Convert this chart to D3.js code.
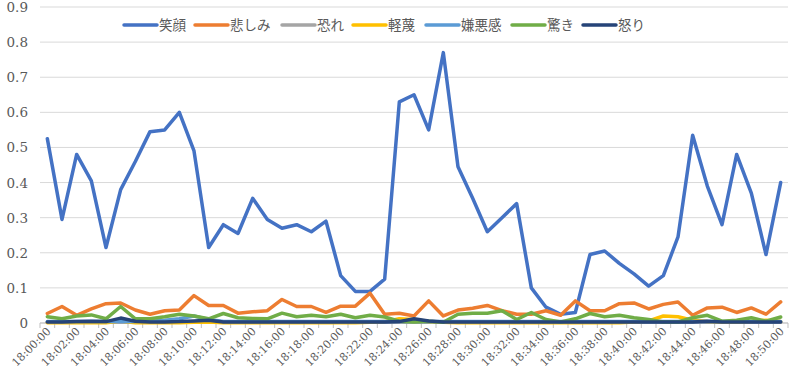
<!DOCTYPE html>
<html>
<head>
<meta charset="utf-8">
<script src="https://cdn.jsdelivr.net/npm/d3@7"></script>
<style>
  body { margin: 0; background: #fff; }
  svg { display: block; }
</style>
</head>
<body>
<script>
// one sample per minute, 18:00:00 .. 18:50:00
var times = d3.range(51).map(function (i) {
    return "18:" + String(i).padStart(2, "0") + ":00";
});

var names = ["笑顔", "悲しみ", "恐れ", "軽蔑", "嫌悪感", "驚き", "怒り"];
var colors = ["#4472C4", "#ED7D31", "#A5A5A5", "#FFC000", "#5B9BD5", "#70AD47", "#264478"];

var smile = [0.525, 0.295, 0.48, 0.405, 0.215, 0.38, 0.46, 0.545, 0.55, 0.6,
    0.49, 0.215, 0.28, 0.255, 0.355, 0.295, 0.27, 0.28, 0.26, 0.29,
    0.135, 0.09, 0.09, 0.125, 0.63, 0.65, 0.55, 0.77, 0.445, 0.355,
    0.26, 0.30, 0.34, 0.10, 0.045, 0.025, 0.03, 0.195, 0.205, 0.17,
    0.14, 0.105, 0.135, 0.245, 0.535, 0.39, 0.28, 0.48, 0.37, 0.195, 0.40];
var sadness = [0.027, 0.047, 0.022, 0.04, 0.055, 0.057, 0.037, 0.025, 0.035, 0.037,
    0.078, 0.05, 0.05, 0.028, 0.032, 0.035, 0.067, 0.047, 0.047, 0.03,
    0.048, 0.048, 0.085, 0.025, 0.028, 0.02, 0.063, 0.02, 0.037, 0.042,
    0.05, 0.035, 0.025, 0.025, 0.035, 0.022, 0.063, 0.035, 0.035, 0.055,
    0.057, 0.04, 0.053, 0.06, 0.022, 0.043, 0.045, 0.03, 0.043, 0.025, 0.06];
var fear = [0.002, 0.002, 0.002, 0.002, 0.002, 0.002, 0.002, 0.002, 0.002, 0.002,
    0.002, 0.002, 0.002, 0.002, 0.002, 0.002, 0.002, 0.002, 0.002, 0.002,
    0.002, 0.002, 0.002, 0.002, 0.002, 0.002, 0.002, 0.002, 0.002, 0.002,
    0.002, 0.002, 0.002, 0.002, 0.002, 0.002, 0.002, 0.002, 0.002, 0.002,
    0.002, 0.002, 0.002, 0.002, 0.002, 0.002, 0.002, 0.002, 0.002, 0.002, 0.002];
var contempt = [0.001, 0.001, 0.001, 0.001, 0.001, 0.006, 0.001, 0.001, 0.001, 0.001,
    0.002, 0.003, 0.001, 0.001, 0.001, 0.001, 0.001, 0.001, 0.001, 0.001,
    0.001, 0.001, 0.002, 0.004, 0.012, 0.01, 0.004, 0.002, 0.001, 0.001,
    0.001, 0.001, 0.001, 0.001, 0.001, 0.001, 0.001, 0.001, 0.001, 0.001,
    0.003, 0.006, 0.02, 0.018, 0.008, 0.004, 0.003, 0.003, 0.004, 0.008, 0.004];
var disgust = [0.004, 0.004, 0.004, 0.004, 0.004, 0.004, 0.004, 0.005, 0.008, 0.012,
    0.02, 0.01, 0.004, 0.004, 0.004, 0.004, 0.004, 0.004, 0.004, 0.004,
    0.004, 0.004, 0.004, 0.004, 0.004, 0.004, 0.004, 0.004, 0.004, 0.004,
    0.004, 0.004, 0.004, 0.004, 0.004, 0.004, 0.004, 0.004, 0.004, 0.004,
    0.004, 0.004, 0.004, 0.004, 0.004, 0.004, 0.004, 0.004, 0.004, 0.004, 0.004];
var surprise = [0.018, 0.012, 0.02, 0.023, 0.012, 0.047, 0.012, 0.012, 0.018, 0.025,
    0.02, 0.012, 0.027, 0.015, 0.013, 0.012, 0.028, 0.018, 0.022, 0.018,
    0.025, 0.015, 0.022, 0.017, 0.005, 0.003, 0.005, 0.002, 0.025, 0.028,
    0.028, 0.035, 0.01, 0.03, 0.01, 0.003, 0.012, 0.027, 0.018, 0.022,
    0.015, 0.01, 0.003, 0.003, 0.015, 0.022, 0.005, 0.008, 0.015, 0.005, 0.017];
var anger = [0.003, 0.003, 0.004, 0.005, 0.004, 0.014, 0.005, 0.003, 0.003, 0.004,
    0.006, 0.008, 0.003, 0.003, 0.003, 0.003, 0.003, 0.003, 0.003, 0.003,
    0.003, 0.003, 0.003, 0.003, 0.004, 0.012, 0.006, 0.003, 0.003, 0.003,
    0.003, 0.003, 0.003, 0.003, 0.003, 0.003, 0.003, 0.003, 0.003, 0.003,
    0.003, 0.003, 0.003, 0.003, 0.003, 0.005, 0.003, 0.003, 0.003, 0.003, 0.003];

var series = [smile, sadness, fear, contempt, disgust, surprise, anger];
var yTicks = [0, 0.1, 0.2, 0.3, 0.4, 0.5, 0.6, 0.7, 0.8, 0.9];

var width = 800, height = 384;
var margin = { top: 7, right: 12, bottom: 61, left: 40 };

var svg = d3.select("body").append("svg")
    .attr("width", width)
    .attr("height", height);

var x = d3.scaleBand().domain(times).range([margin.left, width - margin.right]);
var y = d3.scaleLinear().domain([0, 0.9]).range([height - margin.bottom, margin.top]);
var cx = function (t) { return x(t) + x.bandwidth() / 2; };

// gridlines
svg.append("g")
    .selectAll("line")
    .data(yTicks)
    .join("line")
    .attr("x1", margin.left)
    .attr("x2", width - margin.right)
    .attr("y1", function (d) { return y(d); })
    .attr("y2", function (d) { return y(d); })
    .attr("stroke", "#d9d9d9")
    .attr("stroke-width", 1);

// y labels
svg.append("g")
    .selectAll("text")
    .data(yTicks)
    .join("text")
    .attr("x", 28)
    .attr("y", function (d) { return y(d) + 5; })
    .attr("text-anchor", "end")
    .attr("font-family", "'DejaVu Serif', serif")
    .attr("font-size", 13.5)
    .attr("fill", "#595959")
    .text(function (d) { return d === 0 ? "0" : d3.format(".1f")(d); });

// x axis line + ticks between categories
var x0 = y(0);
svg.append("line")
    .attr("x1", margin.left).attr("x2", width - margin.right)
    .attr("y1", x0).attr("y2", x0)
    .attr("stroke", "#bfbfbf");
svg.append("g")
    .selectAll("line")
    .data(times.concat(["end"]))
    .join("line")
    .attr("x1", function (d, i) { return margin.left + i * x.bandwidth(); })
    .attr("x2", function (d, i) { return margin.left + i * x.bandwidth(); })
    .attr("y1", x0).attr("y2", x0 + 5)
    .attr("stroke", "#bfbfbf");

// x labels every 2 minutes
svg.append("g")
    .selectAll("text")
    .data(times.filter(function (d, i) { return i % 2 === 0; }))
    .join("text")
    .attr("transform", function (d) {
        return "translate(" + (cx(d) + 4) + "," + (x0 + 9) + ") rotate(-45)";
    })
    .attr("text-anchor", "end")
    .attr("font-family", "'DejaVu Serif', serif")
    .attr("font-size", 11)
    .attr("fill", "#595959")
    .text(function (d) { return d; });

// lines
var line = d3.line()
    .x(function (d, i) { return cx(times[i]); })
    .y(function (d) { return y(d); })
    .curve(d3.curveLinear);

svg.append("g")
    .selectAll("path")
    .data(series)
    .join("path")
    .attr("d", line)
    .attr("fill", "none")
    .attr("stroke", function (d, i) { return colors[i]; })
    .attr("stroke-width", 3.5)
    .attr("stroke-linejoin", "round")
    .attr("stroke-linecap", "round");

// legend
var legendX = [124, 195, 282, 353, 426, 512, 583];
var legend = svg.append("g")
    .selectAll("g")
    .data(names)
    .join("g")
    .attr("transform", function (d, i) { return "translate(" + legendX[i] + ",25)"; });
legend.append("line")
    .attr("x1", 0).attr("x2", 33)
    .attr("stroke", function (d, i) { return colors[i]; })
    .attr("stroke-width", 3.5)
    .attr("stroke-linecap", "round");
legend.append("text")
    .attr("x", 35)
    .attr("y", 5)
    .attr("font-family", "'Noto Sans CJK JP', sans-serif")
    .attr("font-size", 13.5)
    .attr("fill", "#595959")
    .text(function (d) { return d; });
</script>
</body>
</html>
